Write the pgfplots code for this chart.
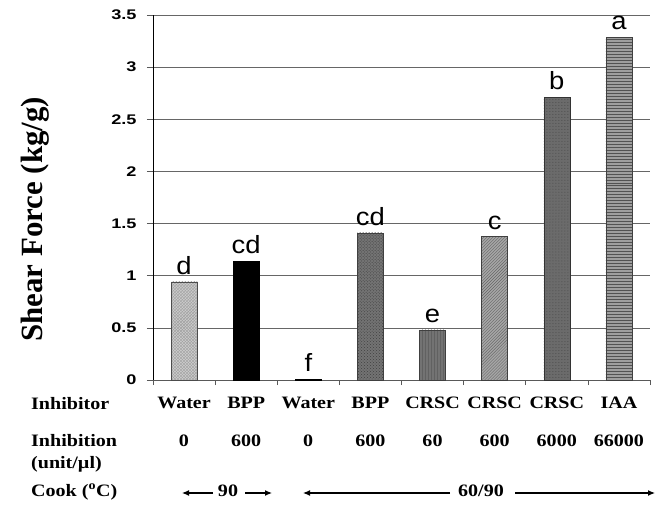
\documentclass[border=0pt]{standalone}
\usepackage{fontspec}
\usepackage{pgfplots}
\pgfplotsset{compat=1.18}
\usetikzlibrary{patterns,arrows.meta}
\setmainfont{Liberation Serif}[FakeStretch=1.15]
\newfontfamily\ticksans{Liberation Sans}[FakeStretch=1.3]
\newfontfamily\letsans{Liberation Sans}[FakeStretch=1.1]
\newfontfamily\ylabfont{Liberation Serif}
\newcommand{\catfont}{\bfseries\fontsize{17.5}{18}\selectfont}
\begin{document}
\begin{tikzpicture}
\begin{axis}[
  scale only axis,
  width=497bp, height=365bp,
  xmin=-0.5, xmax=7.5, ymin=0, ymax=3.5,
  ybar, bar width=26bp, bar shift=0pt,
  axis x line*=bottom, axis y line*=left,
  x axis line style={-, draw=gray!70!black, line width=0.8bp},
  y axis line style={-, draw=black, line width=0.8bp},
  ytick={0,0.5,...,3.5},
  ymajorgrids,
  grid style={draw=gray!80!black, line width=0.7bp},
  xtick={0,...,7},
  xticklabels={Water,BPP,Water,BPP,CRSC,CRSC,CRSC,IAA},
  minor xtick={-0.5,0.5,...,7.5},
  major x tick style={draw=none},
  minor x tick style={draw=gray!70!black, line width=0.6bp},
  minor tick length=5bp,
  major tick length=6bp,
  tick align=outside,
  y tick style={draw=gray!70!black, line width=0.6bp},
  /pgf/number format/assume math mode=true,
  yticklabel style={font=\ticksans\bfseries\fontsize{14}{14}\selectfont, xshift=-7bp},
  xticklabel style={font=\catfont, anchor=base, yshift=-22bp},
  every axis y label/.style={at={(axis description cs:-0.237,0.44)}, rotate=90, anchor=center},
  ylabel={\ylabfont\bfseries\fontsize{31}{31}\selectfont Shear Force (kg/g)},
  nodes near coords,
  point meta=explicit symbolic,
  every node near coord/.style={font=\letsans\fontsize{25}{25}\selectfont, inner sep=0pt, anchor=south, yshift=7bp, color=black},
  clip=false,
]
\addplot[draw=gray!60!black, fill=gray!40, postaction={pattern=crosshatch, pattern color=gray!75}] coordinates {(0,0.94) [d]};
\addplot[draw=black, fill=black] coordinates {(1,1.14) [cd]};
\addplot[draw=black, fill=black] coordinates {(2,0.01) [f]};
\addplot[draw=gray!50!black, fill=black!55, postaction={pattern=crosshatch dots, pattern color=black!75}] coordinates {(3,1.41) [cd]};
\addplot[draw=gray!50!black, fill=black!55, postaction={pattern=vertical lines, pattern color=black!75}] coordinates {(4,0.48) [e]};
\addplot[draw=gray!50!black, fill=black!35, postaction={pattern=north east lines, pattern color=black!60}] coordinates {(5,1.375) [c]};
\addplot[draw=gray!40!black, fill=black!58, postaction={pattern=dots, pattern color=black!72}] coordinates {(6,2.71) [b]};
\addplot[draw=gray!50!black, fill=black!38, postaction={pattern=horizontal lines, pattern color=black!68}] coordinates {(7,3.29) [a]};
\end{axis}
% rows below the axis (origin = lower-left of axis box, 1bp = 1px)
\node[anchor=base west, font=\catfont, inner sep=0pt] at (-122bp,-29bp) {Inhibitor};
\node[anchor=base west, font=\catfont, inner sep=0pt] at (-122bp,-66bp) {Inhibition};
\node[anchor=base west, font=\catfont, inner sep=0pt] at (-122bp,-88bp) {(unit/µl)};
\node[anchor=base west, font=\catfont, inner sep=0pt] at (-122bp,-116bp) {Cook (\textsuperscript{o}C)};
\foreach \x/\t in {0/0,1/600,2/0,3/600,4/60,5/600,6/6000,7/66000}{
  \node[anchor=base, font=\catfont, inner sep=0pt] at ({31bp+\x*62.125bp},-66bp) {\t};
}
\node[anchor=base, font=\catfont, inner sep=0pt] at (75bp,-116bp) {90};
\node[anchor=base, font=\catfont, inner sep=0pt] at (328bp,-116bp) {60/90};
\draw[-{Latex[length=7bp,width=6bp]}, line width=1.2bp] (60bp,-113bp) -- (29bp,-113bp);
\draw[-{Latex[length=7bp,width=6bp]}, line width=1.2bp] (92bp,-113bp) -- (119bp,-113bp);
\draw[-{Latex[length=7bp,width=6bp]}, line width=1.2bp] (297bp,-113bp) -- (150bp,-113bp);
\draw[-{Latex[length=7bp,width=6bp]}, line width=1.2bp] (362bp,-113bp) -- (502bp,-113bp);
\useasboundingbox (-153bp,-126bp) rectangle (515bp,380bp);
\end{tikzpicture}
\end{document}
